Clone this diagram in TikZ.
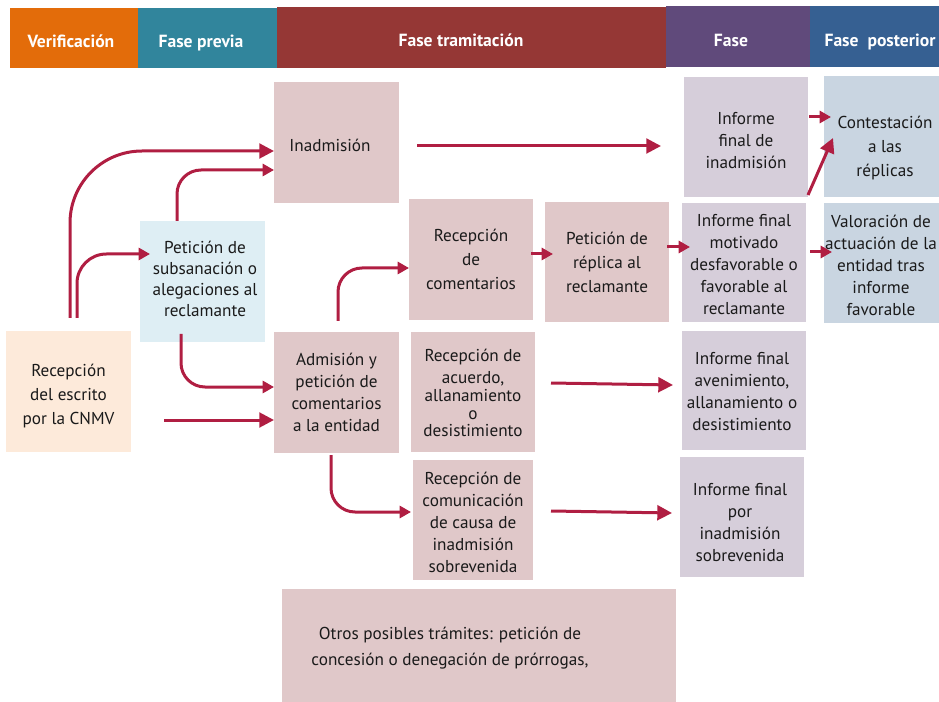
\documentclass[tikz,border=0pt]{standalone}
\usepackage{fontspec}
\setmainfont{PT Sans}
\usetikzlibrary{arrows.meta,calc}
\definecolor{cverif}{RGB}{227,108,10}
\definecolor{cprev}{RGB}{49,133,156}
\definecolor{ctram}{RGB}{149,55,53}
\definecolor{cfase}{RGB}{96,74,123}
\definecolor{cpost}{RGB}{54,96,146}
\definecolor{cpeach}{RGB}{253,234,218}
\definecolor{cltblue}{RGB}{222,238,244}
\definecolor{cpink}{RGB}{224,200,201}
\definecolor{clav}{RGB}{214,206,218}
\definecolor{cgblue}{RGB}{201,213,225}
\definecolor{carrow}{RGB}{176,30,66}
\definecolor{ctext}{RGB}{26,26,26}
\begin{document}
\begin{tikzpicture}[x=0.75pt,y=-0.75pt,
  sz/.style 2 args={minimum width=#1*0.75pt, minimum height=#2*0.75pt},
  hdr/.style={draw=none, inner sep=0pt, outer sep=0pt},
  hdrtext/.style={text=white, font=\fontsize{13.2}{14}\selectfont\bfseries, anchor=base},
  box/.style={draw=none, inner sep=1pt, outer sep=0pt, align=center, text=ctext,
    font=\fontsize{12.9}{16.5}\selectfont},
  wide/.style={font=\fontsize{12.9}{18}\selectfont},
  arr/.style={draw=carrow, line width=2.25pt, -{Triangle[length=11pt,width=11pt]}},
  arrs/.style={draw=carrow, line width=2.25pt, -{Triangle[length=8.5pt,width=9pt]}},
]
\useasboundingbox (0,0) rectangle (939,702);
% header
\node[hdr, fill=cverif, sz={128}{60}] (h1) at (74,38) {};
\node[hdr, fill=cprev, sz={139}{60}] (h2) at (207.5,38) {};
\node[hdr, fill=ctram, sz={389}{61}] (h3) at (471.5,37.5) {};
\node[hdr, fill=cfase, sz={144}{61}] (h4) at (738,36.5) {};
\node[hdr, fill=cpost, sz={135}{61}] (h5) at (877.5,36.5) {};
\node[hdrtext] (t1) at (71,48) {Verificación};
\node[hdrtext] (t2) at (201,48) {Fase previa};
\node[hdrtext] (t3) at (461,47) {Fase tramitación};
\node[hdrtext] (t4) at (731,47) {Fase};
\node[hdrtext] (t5) at (880,47) {Fase\ \ posterior};
% boxes
\node[box, fill=cpeach, sz={125}{121}] (rec) at (68.5,391.5) {};
\node[box, wide] (rect) at (68.5,396) {Recepción\\del escrito\\por la CNMV};
\node[box, fill=cltblue, sz={125}{121}] (pet) at (202.5,281.5) {};
\node[box, font=\fontsize{12.9}{15.8}\selectfont] (pett) at (205,279) {Petición de\\subsanación o\\alegaciones al\\reclamante};
\node[box, fill=cpink, sz={125}{121}] (inad) at (336.5,142.5) {};
\node[box, anchor=west] (inadt) at (288,145) {Inadmisión};
\node[box, fill=cpink, sz={125}{121}] (adm) at (336.5,392.5) {Admisión y\\petición de\\comentarios\\a la entidad};
\node[box, wide, fill=cpink, sz={124}{121}] (rcom) at (471,259.5) {Recepción\\de\\comentarios};
\node[box, wide, fill=cpink, sz={124}{120}] (prep) at (607,262) {Petición de\\réplica al\\reclamante};
\node[box, fill=clav, sz={124}{120}] (ifi) at (746,137) {};
\node[box] (ifit) at (746,141) {Informe\\final de\\inadmisión};
\node[box, fill=clav, sz={124}{119}] (ifm) at (744,262.5) {};
\node[box] (ifmt) at (744,265) {Informe final\\motivado\\desfavorable o\\favorable al\\reclamante};
\node[box, fill=cgblue, sz={121}{121}] (cont) at (884.5,136.5) {};
\node[box, wide] (contt) at (885,148) {Contestación\\a las\\réplicas};
\node[box, fill=cgblue, sz={121}{120}] (val) at (884.5,263) {};
\node[box] (valt) at (881,265.5) {Valoración de\\actuación de la\\entidad tras\\informe\\favorable};
\node[box, fill=cpink, sz={124}{120}] (racu) at (473,392) {};
\node[box, font=\fontsize{12.9}{14}\selectfont] (racut) at (473,393) {Recepción de\\[2pt]acuerdo,\\allanamiento\\[-1pt]o\\[-1pt]desistimiento};
\node[box, fill=clav, sz={124}{119}] (ifa) at (744,390.5) {};
\node[box] (ifat) at (742,392) {Informe final\\avenimiento,\\allanamiento o\\desistimiento};
\node[box, fill=cpink, sz={120}{120}] (rcc) at (473,520) {};
\node[box] (rcct) at (473,522) {Recepción de\\comunicación\\de causa de\\inadmisión\\sobrevenida};
\node[box, fill=clav, sz={124}{120}] (ifp) at (742,517) {};
\node[box] (ifpt) at (740,522.5) {Informe final\\por\\inadmisión\\sobrevenida};
\node[box, fill=cpink, sz={394}{113}] (otros) at (479,645.5) {};
\node[box, font=\fontsize{12.9}{20}\selectfont] (otrost) at (450,648) {Otros posibles trámites: petición de\\concesión o denegación de prórrogas,};
% connectors
\coordinate (a5) at (164,420);
\coordinate (a7s) at (417,146);
\coordinate (a7e) at (661,146);
\coordinate (a13s) at (551,383);
\coordinate (a15s) at (551,511);
\draw[arr, rounded corners=54pt] ($(rec.north)+(1.5,-13)$) |- (inad.west |- 0,151);
\draw[arrs, rounded corners=22pt] ($(rec.north)+(8.5,-13)$) |- ($(pet.west |- 0,254)+(10,0)$);
\draw[arrs, rounded corners=18pt] ($(pet.north)+(-25.5,0)$) |- (inad.west |- 0,170);
\draw[arrs, rounded corners=18pt] ($(pet.south)+(-21.5,-8)$) |- (adm.west |- 0,387);
\draw[arr] (a5) -- (adm.west |- a5);
\draw[arrs, rounded corners=18pt] ($(adm.north)+(1.5,-11)$) |- (rcom.west |- 0,268);
\draw[arr] (a7s) -- (a7e);
\draw[arrs] ($(rcom.east |- 0,254)+(-2,0)$) -- ($(prep.west |- 0,254)+(8,0)$);
\draw[arrs] ($(prep.east |- 0,247)+(-2,0)$) -- ($(ifm.west |- 0,247)+(8,0)$);
\draw[arrs] ($(ifm.east |- 0,252)+(4,0)$) -- ($(val.west |- 0,252)+(8,0)$);
\draw[arrs] ($(ifi.east |- 0,117)+(1,0)$) -- ($(cont.west |- 0,117)+(7,0)$);
\draw[arr] ($(ifi.south east)+(0,-2)$) -- ($(cont.west |- 0,138)+(9,0)$);
\draw[arr] (a13s) -- ($(ifa.west |- 0,385)+(-9,0)$);
\draw[arrs, rounded corners=18pt] ($(adm.south)+(-5.5,2)$) |- ($(rcc.west |- 0,512)+(-2,0)$);
\draw[arr] (a15s) -- ($(ifp.west |- 0,513)+(-8,0)$);
\end{tikzpicture}
\end{document}
